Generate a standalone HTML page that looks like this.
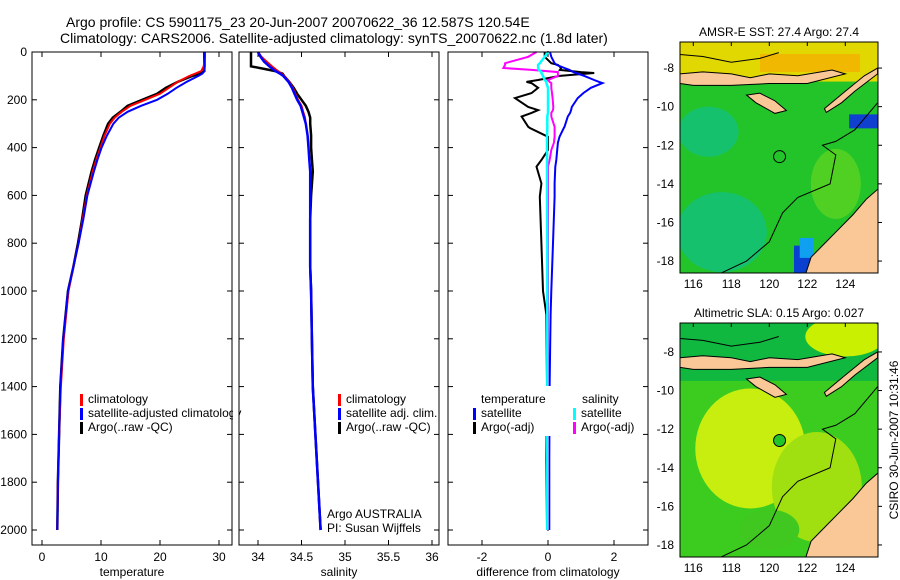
<!DOCTYPE html>
<html><head><meta charset="utf-8">
<style>
body{margin:0;background:#fff;}
svg{display:block;font-family:"Liberation Sans",sans-serif;}
text{font-size:12px;fill:#000;}
</style></head>
<body>
<svg id="fig" width="900" height="580" viewBox="0 0 900 580">
<text x="66" y="27" style="font-size:14px">Argo profile: CS 5901175_23 20-Jun-2007 20070622_36 12.587S 120.54E</text>
<text x="60" y="43" style="font-size:14px">Climatology: CARS2006. Satellite-adjusted climatology: synTS_20070622.nc (1.8d later)</text>
<g id="g"></g>
</svg>
<script>
// ---- data ----
const depthC=[0,20,40,60,80,90,100,125,150,175,200,225,250,275,300,350,400,450,500,600,700,800,900,1000,1200,1400,1600,1800,2000];
const tempClim=[27.6,27.6,27.5,27.4,27.0,26.0,25.0,23.0,21.5,20.0,17.5,15.0,13.5,12.3,11.5,10.6,9.9,9.2,8.6,7.6,6.9,6.2,5.3,4.5,3.7,3.2,2.9,2.7,2.6];
const tempSat=[27.6,27.6,27.6,27.6,27.5,27.2,26.5,24.5,22.8,21.3,19.5,16.8,14.5,13.0,12.1,11.0,10.1,9.4,8.8,7.7,7.0,6.2,5.3,4.4,3.6,3.1,2.9,2.7,2.6];
const tempArgo=[27.5,27.5,27.5,27.5,27.5,26.8,25.5,23.0,21.0,19.5,17.0,14.5,13.3,12.0,11.2,10.4,9.7,9.0,8.4,7.4,6.8,6.1,5.3,4.4,3.6,3.1,2.9,2.7,2.6];
const salClim=[34.0,34.04,34.1,34.16,34.23,34.27,34.3,34.36,34.4,34.43,34.46,34.5,34.52,34.54,34.55,34.57,34.58,34.59,34.6,34.6,34.6,34.6,34.6,34.61,34.62,34.63,34.66,34.69,34.72];
const salSat=[34.0,34.03,34.07,34.13,34.2,34.25,34.29,34.35,34.39,34.42,34.45,34.49,34.51,34.53,34.55,34.57,34.58,34.59,34.6,34.6,34.6,34.6,34.6,34.61,34.62,34.63,34.66,34.69,34.72];
const salArgo=[33.92,33.92,33.92,33.92,34.2,34.28,34.3,34.36,34.41,34.45,34.5,34.55,34.58,34.6,34.6,34.61,34.61,34.62,34.63,34.61,34.6,34.6,34.6,34.61,34.62,34.63,34.66,34.69,34.72];
const depthD=[0,20,47,54,67,75,84,88,100,117,125,130,150,172,193,230,243,255,270,313,318,355,380,410,452,480,550,605,800,1000,1100,1400,1700,2000];
const dTSat=[0.06,0.1,0.2,0.26,0.5,0.65,0.77,0.85,1.1,1.4,1.55,1.65,1.3,1.07,0.9,0.72,0.7,0.67,0.6,0.5,0.48,0.35,0.3,0.28,0.25,0.22,0.2,0.2,0.15,0.1,0.08,0.05,0.04,0.04];
const dTArgo=[-0.1,-0.1,0.1,0.3,0.4,0.36,1.0,1.4,0.36,-0.3,-0.65,-0.5,-0.3,-0.5,-1.0,-0.6,-0.3,-0.5,-0.8,-0.6,-0.55,0.0,0.0,0.0,-0.2,-0.35,-0.2,-0.25,-0.2,-0.15,-0.05,-0.03,-0.05,-0.03];
const dSSat=[0.0,-0.1,-0.25,-0.3,-0.3,-0.28,-0.2,-0.2,-0.15,-0.1,-0.05,-0.05,0.0,0.0,0.0,0.0,0.0,0.0,-0.02,-0.02,-0.02,-0.03,-0.03,-0.03,-0.03,-0.03,-0.03,-0.03,-0.02,-0.02,-0.02,-0.02,-0.02,-0.02];
const dSArgo=[-0.35,-0.6,-1.3,-1.3,-1.35,-0.5,0.3,0.3,0.3,0.0,0.05,0.1,0.1,0.12,0.14,0.16,0.15,0.1,0.1,0.2,0.2,0.2,0.18,0.1,0.05,0.0,0.0,0.0,0.0,0.0,0.0,0.0,0.0,0.0];
const depthTicks=[0,200,400,600,800,1000,1200,1400,1600,1800,2000];
const tempTicks=[0,10,20,30];
const salTicks=[34,34.5,35,35.5,36];
const salTickLabels=["34","34.5","35","35.5","36"];
const diffTicks=[-2,0,2];
const lonTicks=[116,118,120,122,124];
const latTicks=[-8,-10,-12,-14,-16,-18];

const NS="http://www.w3.org/2000/svg";
const G=document.getElementById('g');
function el(tag,attrs,parent,txt){const e=document.createElementNS(NS,tag);for(const k in attrs)e.setAttribute(k,attrs[k]);if(txt!==undefined)e.textContent=txt;(parent||G).appendChild(e);return e;}
const TOP=52,BOT=545;
const yD=d=>52+d*0.239;

function panel(name,L,R,x,ticks,labels,title){
  const g=el('g',{});
  
  
  ticks.forEach((t,i)=>{
    const xx=x(t);
    el('line',{x1:xx,x2:xx,y1:TOP,y2:TOP+5,stroke:'#000'},g);
    el('line',{x1:xx,x2:xx,y1:BOT,y2:BOT-5,stroke:'#000'},g);
    const tx=el('text',{x:xx,y:561,'text-anchor':'middle'},g,labels[i]);
    
    
  });
  depthTicks.forEach(d=>{
    el('line',{x1:L,x2:L+5,y1:yD(d),y2:yD(d),stroke:'#000'},g);
    el('line',{x1:R,x2:R-5,y1:yD(d),y2:yD(d),stroke:'#000'},g);
  });
  const t=el('text',{x:(L+R)/2,y:576,'text-anchor':'middle'},g,title);
  
  
  return g;
}
function frame(L,R,name){const r=el('rect',{x:L,y:TOP,width:R-L,height:BOT-TOP,fill:'none',stroke:'#000'});}
function line(xs,ds,x,color,w,name,parent){
  const p=xs.map((v,i)=>(i?'L':'M')+x(v).toFixed(1)+','+yD(ds[i]).toFixed(1)).join('');
  const e=el('path',{d:p,fill:'none',stroke:color,'stroke-width':w},parent);
  
  
}
function legend(x,y,items,parent){
  items.forEach((it,i)=>{
    el('rect',{x:x,y:y+i*14-9,width:3,height:12,fill:it[0]},parent);
    const t=el('text',{x:x+8,y:y+i*14},parent,it[1]);
    
    
  });
}

// Panel 1 temperature
const xT=v=>42+v*5.9;
const p1=panel('temperature',32,232,xT,tempTicks,tempTicks.map(String),'temperature');
depthTicks.forEach(d=>{const t=el('text',{x:27,y:yD(d)+4,'text-anchor':'end'},p1,String(d));});
line(tempArgo,depthC,xT,'#000',2.5,'temperature-argo-line',p1);
line(tempClim,depthC,xT,'#f00',2,'temperature-climatology-line',p1);
line(tempSat,depthC,xT,'#00f',2,'temperature-satellite-line',p1);
legend(80,403,[['#f00','climatology'],['#00f','satellite-adjusted climatology'],['#000','Argo(..raw -QC)']],p1);
frame(32,232,'temperature');
el('rect',{x:233,y:380,width:6,height:60,fill:'#fff'});

// Panel 2 salinity
const xS=v=>258+(v-34)*87;
const p2=panel('salinity',239,439,xS,salTicks,salTickLabels,'salinity');
line(salArgo,depthC,xS,'#000',2.5,'salinity-argo-line',p2);
line(salClim,depthC,xS,'#f00',2,'salinity-climatology-line',p2);
line(salSat,depthC,xS,'#00f',2.5,'salinity-satellite-line',p2);
legend(338,403,[['#f00','climatology'],['#00f','satellite adj. clim.'],['#000','Argo(..raw -QC)']],p2);
el('text',{x:327,y:518},p2,'Argo AUSTRALIA');
el('text',{x:327,y:532},p2,'PI: Susan Wijffels');
frame(239,439,'salinity');

// Panel 3 differences
const xDf=v=>548+v*33;
const p3=panel('difference',448,648,xDf,diffTicks,diffTicks.map(String),'difference from climatology');
depthTicks.forEach(d=>{el('line',{x1:548,x2:548,y1:yD(d)-1,y2:yD(d)+1,stroke:'#000'},p3);});
line(dTArgo,depthD,xDf,'#000',2,'temp-diff-argo-line',p3);
line(dTSat,depthD,xDf,'#00f',2,'temp-diff-satellite-line',p3);
line(dSArgo,depthD,xDf,'#f0f',2,'sal-diff-argo-line',p3);
line(dSSat,depthD,xDf,'#0ff',2.5,'sal-diff-satellite-line',p3);
el('rect',{x:470,y:386,width:150,height:50,fill:'#fff'},p3);
el('text',{x:481,y:403},p3,'temperature');
el('text',{x:582,y:403},p3,'salinity');
legend(473,417,[['#00f','satellite'],['#000','Argo(-adj)']],p3);
legend(573,417,[['#0ff','satellite'],['#f0f','Argo(-adj)']],p3);
frame(448,648,'difference');

// Maps
function map(name,top,bottom,latTop,title,sla){
  const L=680,R=878;
  const X=lon=>L+(lon-115.3)*19;
  const Y=lat=>top+(latTop-lat)*19.3;
  const g=el('g',{});
  
  
  const id='c'+name;
  const cp=el('clipPath',{id:id},g);el('rect',{x:L,y:top,width:R-L,height:bottom-top},cp);
  const m=el('g',{'clip-path':'url(#'+id+')'},g);
  if(!sla){
    el('rect',{x:L,y:top,width:R-L,height:bottom-top,fill:'#22c42a'},m);
    el('rect',{x:L,y:top,width:R-L,height:Y(-8.7)-top,fill:'#e0d800'},m);
    el('rect',{x:L+80,y:top+12,width:100,height:18,fill:'#f0b800'},m);
    el('ellipse',{cx:X(116.8),cy:Y(-11.3),rx:30,ry:25,fill:'#10c08a',opacity:0.7},m);
    el('ellipse',{cx:X(117.5),cy:Y(-16.5),rx:45,ry:40,fill:'#10c08a',opacity:0.7},m);
    el('ellipse',{cx:X(123.5),cy:Y(-14),rx:25,ry:35,fill:'#70d820',opacity:0.6},m);
    el('rect',{x:X(121.3),y:Y(-17.2),width:18,height:40,fill:'#0a40d0'},m);
    el('rect',{x:X(121.6),y:Y(-16.8),width:14,height:20,fill:'#10a0f0'},m);
    el('rect',{x:X(124.2),y:Y(-10.4),width:30,height:14,fill:'#1040d0'},m);
  }else{
    el('rect',{x:L,y:top,width:R-L,height:bottom-top,fill:'#3ccc20'},m);
    el('rect',{x:L,y:top,width:R-L,height:Y(-9.5)-top,fill:'#10b840'},m);
    el('ellipse',{cx:X(124),cy:Y(-7.2),rx:40,ry:20,fill:'#c8f000'},m);
    el('ellipse',{cx:X(119),cy:Y(-13),rx:55,ry:60,fill:'#c8ee10'},m);
    el('ellipse',{cx:X(122.5),cy:Y(-15),rx:45,ry:55,fill:'#a0e010'},m);
    el('ellipse',{cx:X(120),cy:Y(-17.2),rx:30,ry:20,fill:'#40c820'},m);
  }
  const land='#f9c896';
  const polys=[
    [[115.3,-8.3],[116.5,-8.2],[118,-8.3],[119,-8.5],[120,-8.3],[121.5,-8.4],[123.3,-8.1],[124,-8.3],[122,-8.8],[120,-8.8],[118,-8.9],[116,-8.9],[115.3,-8.8]],
    [[118.8,-9.4],[119.5,-9.3],[120.3,-9.7],[120.9,-10.2],[120.3,-10.35],[119.3,-9.8]],
    [[125.7,-8.0],[125.7,-8.3],[124.5,-9.2],[123.8,-9.8],[123,-10.3],[122.9,-10.1],[124,-9.2],[125,-8.4]],
    [[121.9,-18.7],[122.2,-17.8],[123,-17],[123.6,-16.4],[124.4,-15.6],[125.1,-14.8],[125.8,-14.2],[125.8,-18.7]]
  ];
  polys.forEach(p=>{const e=el('polygon',{points:p.map(q=>X(q[0])+','+Y(q[1])).join(' '),fill:land,stroke:'#000','stroke-width':1},m);});
  const c=[[117.3,-18.7],[118.8,-18],[120,-17],[120.7,-15.5],[121.5,-14.7],[123.2,-14],[123.5,-12.5],[122.8,-12],[123.5,-11.8],[124.5,-11.2],[125.7,-9.8]];
  el('path',{d:c.map((q,i)=>(i?'L':'M')+X(q[0])+','+Y(q[1])).join(''),fill:'none',stroke:'#000','stroke-width':1},m);
  el('path',{d:'M'+X(115.3)+','+Y(-7.3)+' L'+X(116.5)+','+Y(-7.4)+' L'+X(118)+','+Y(-7.7)+' L'+X(119.5)+','+Y(-7.5)+' L'+X(120.5)+','+Y(-7.2),fill:'none',stroke:'#000'},m);
  const pt=el('circle',{cx:X(120.54),cy:Y(-12.587),r:6,fill:sla?'#22c42a':'none',stroke:'#000'},m);
  
  
  el('rect',{x:L,y:top,width:R-L,height:bottom-top,fill:'none',stroke:'#000'},g);
  lonTicks.forEach(lo=>{
    el('line',{x1:X(lo),x2:X(lo),y1:top,y2:top+4,stroke:'#000'},g);
    const t=el('text',{x:X(lo),y:bottom+15,'text-anchor':'middle'},g,String(lo));
    
    
  });
  latTicks.forEach(la=>{
    el('line',{x1:R,x2:R+4,y1:Y(la),y2:Y(la),stroke:'#000'},g);
    const t=el('text',{x:L-6,y:Y(la)+4,'text-anchor':'end'},g,String(la));
    
    
  });
  const tt=el('text',{x:(L+R)/2,y:top-6,'text-anchor':'middle'},g,title);
  
  
}
map('sst-map',42,273,-6.65,'AMSR-E SST: 27.4 Argo: 27.4',false);
map('sla-map',323,557,-6.5,'Altimetric SLA: 0.15 Argo: 0.027',true);
const cs=el('text',{x:0,y:0,transform:'translate(898,440) rotate(-90)','text-anchor':'middle'},G,'CSIRO 30-Jun-2007 10:31:46');


</script>
</body></html>
